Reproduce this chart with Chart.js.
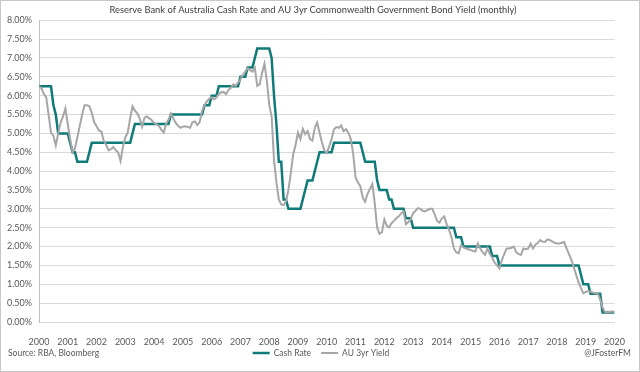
<!DOCTYPE html>
<html>
<head>
<meta charset="utf-8">
<title>RBA Cash Rate vs AU 3yr Yield</title>
<script src="https://cdn.jsdelivr.net/npm/chart.js@4.4.0/dist/chart.umd.min.js"></script>
<style>
  html, body { margin: 0; padding: 0; background: #fff; }
  #wrap { width: 640px; height: 372px; }
</style>
</head>
<body>
<div id="wrap"><canvas id="chart" width="640" height="372"></canvas></div>
<script>
// monthly series, first point sits on the 2000 tick, one point per month
const startYear = 2000;
const yearTicks = [2000, 2001, 2002, 2003, 2004, 2005, 2006, 2007, 2008, 2009, 2010,
  2011, 2012, 2013, 2014, 2015, 2016, 2017, 2018, 2019, 2020];
const rateTicks = [0, 0.5, 1, 1.5, 2, 2.5, 3, 3.5, 4, 4.5, 5, 5.5, 6, 6.5, 7, 7.5, 8];

const cashRate = [
  6.25, 6.25, 6.25, 6.25, 6.25,
  6.25, 5.75, 5.5, 5.0, 5.0, 5.0, 5.0, 5.0, 4.75, 4.5, 4.5, 4.25,
  4.25, 4.25, 4.25, 4.25, 4.5, 4.75, 4.75, 4.75, 4.75, 4.75, 4.75, 4.75,
  4.75, 4.75, 4.75, 4.75, 4.75, 4.75, 4.75, 4.75, 4.75, 4.75, 5.0, 5.25,
  5.25, 5.25, 5.25, 5.25, 5.25, 5.25, 5.25, 5.25, 5.25, 5.25, 5.25, 5.25,
  5.25, 5.25, 5.5, 5.5, 5.5, 5.5, 5.5, 5.5, 5.5, 5.5, 5.5, 5.5,
  5.5, 5.5, 5.5, 5.5, 5.75, 5.75, 5.75, 6.0, 6.0, 6.0, 6.25, 6.25,
  6.25, 6.25, 6.25, 6.25, 6.25, 6.25, 6.25, 6.5, 6.5, 6.5, 6.75, 6.75,
  6.75, 7.0, 7.25, 7.25, 7.25, 7.25, 7.25, 7.25, 7.0, 6.0, 5.25, 4.25,
  4.25, 3.25, 3.25, 3.0, 3.0, 3.0, 3.0, 3.0, 3.0, 3.25, 3.5, 3.75,
  3.75, 3.75, 4.0, 4.25, 4.5, 4.5, 4.5, 4.5, 4.5, 4.5, 4.75, 4.75,
  4.75, 4.75, 4.75, 4.75, 4.75, 4.75, 4.75, 4.75, 4.75, 4.75, 4.5, 4.25,
  4.25, 4.25, 4.25, 4.25, 3.75, 3.5, 3.5, 3.5, 3.5, 3.25, 3.25, 3.0,
  3.0, 3.0, 3.0, 3.0, 2.75, 2.75, 2.75, 2.5, 2.5, 2.5, 2.5, 2.5,
  2.5, 2.5, 2.5, 2.5, 2.5, 2.5, 2.5, 2.5, 2.5, 2.5, 2.5, 2.5,
  2.5, 2.25, 2.25, 2.25, 2.0, 2.0, 2.0, 2.0, 2.0, 2.0, 2.0, 2.0,
  2.0, 2.0, 2.0, 2.0, 1.75, 1.75, 1.75, 1.5, 1.5, 1.5, 1.5, 1.5,
  1.5, 1.5, 1.5, 1.5, 1.5, 1.5, 1.5, 1.5, 1.5, 1.5, 1.5, 1.5,
  1.5, 1.5, 1.5, 1.5, 1.5, 1.5, 1.5, 1.5, 1.5, 1.5, 1.5, 1.5,
  1.5, 1.5, 1.5, 1.5, 1.5, 1.25, 1.0, 1.0, 1.0, 0.75, 0.75, 0.75,
  0.75, 0.75, 0.25, 0.25, 0.25, 0.25, 0.25, 0.25
];

const bondYield = [
  6.25, 6.2, 6.05, 5.96, 5.5, 5.02, 4.94, 4.68, 5.0, 5.28, 5.45, 5.66,
  5.25, 4.85, 4.51, 4.6, 4.9, 5.2, 5.5, 5.75, 5.75, 5.72, 5.55, 5.3,
  5.19, 5.08, 5.05, 4.8, 4.7, 4.55, 4.58, 4.64, 4.55, 4.5, 4.27, 4.65,
  4.9, 5.02, 5.4, 5.72, 5.6, 5.53, 5.4, 5.18, 5.42, 5.45, 5.4, 5.35,
  5.28, 5.25, 5.2, 5.1, 5.02, 5.25, 5.36, 5.53, 5.4, 5.28, 5.2, 5.15,
  5.18, 5.19, 5.17, 5.15, 5.3, 5.32, 5.22, 5.3, 5.6, 5.75, 5.85, 5.92,
  5.96, 5.9, 5.96, 6.05, 6.09, 6.1, 6.04, 6.15, 6.21, 6.3, 6.26, 6.35,
  6.43, 6.55, 6.64, 6.73, 6.68, 6.64, 6.74, 6.26, 6.3, 6.6, 6.85, 6.4,
  5.75, 5.45, 4.3, 3.7, 3.25, 3.12, 3.1, 3.2, 3.5, 3.95, 4.45, 4.7,
  5.02, 4.85, 5.12, 4.98, 5.06, 4.85, 4.81, 5.15, 5.29, 5.02, 4.76, 4.55,
  4.49, 4.65, 4.85, 5.11, 5.17, 5.15, 5.21, 5.06, 5.11, 5.02, 4.85, 4.47,
  3.83, 3.7, 3.6, 3.3, 3.19, 3.4, 3.53, 3.66, 3.15, 2.5, 2.34, 2.38,
  2.72, 2.55, 2.51, 2.62, 2.68, 2.75, 2.8, 2.88, 2.93, 2.59, 2.65, 2.72,
  2.89, 2.95, 3.02, 3.0, 2.95, 2.93, 2.97, 3.0, 3.0, 2.85, 2.68, 2.63,
  2.75, 2.8, 2.59, 2.45, 2.25, 1.95, 1.85, 1.82, 2.04, 1.98, 1.95, 1.93,
  1.91, 1.88, 1.87, 2.08, 1.95, 1.85, 1.78, 1.95, 1.8, 1.7, 1.57, 1.5,
  1.42, 1.65, 1.8, 1.95, 1.95, 1.97, 2.0, 1.85, 1.8, 1.78, 1.95, 1.93,
  1.95, 2.08, 1.95, 2.05, 2.1, 2.17, 2.13, 2.12, 2.19, 2.17, 2.14, 2.1,
  2.08, 2.08, 2.1, 2.12, 1.95, 1.8, 1.65, 1.45, 1.25, 1.05, 0.9, 0.76,
  0.8, 0.82, 0.8, 0.78, 0.76, 0.75, 0.6, 0.38, 0.27, 0.25, 0.27, 0.28,
  0.27
];

const TEAL = "#0f7b78";
const GREY = "#a6a6a6";
const TEXT = "#595959";
const FONT = "Lato, 'Open Sans', sans-serif";

const toPoints = (values) => values.map((v, i) => ({ x: startYear + i / 12, y: v }));

// bottom strip: legend (from the datasets), source line, handle and the outer frame
const bottomStrip = {
  id: "bottomStrip",
  afterDraw(chart) {
    const c = chart.ctx;
    const y = 353;
    c.save();
    c.font = "8.5px " + FONT;
    c.fillStyle = TEXT;
    c.textBaseline = "middle";

    // legend, centred under the plot
    const sample = 17, gap = 4, between = 10;
    const sets = chart.data.datasets;
    const widths = sets.map(ds => sample + gap + c.measureText(ds.label).width);
    const total = widths.reduce((a, b) => a + b, 0) + between * (sets.length - 1);
    let x = 321 - total / 2;
    sets.forEach((ds, i) => {
      c.strokeStyle = ds.borderColor;
      c.lineWidth = ds.borderWidth;
      c.beginPath();
      c.moveTo(x, y);
      c.lineTo(x + sample, y);
      c.stroke();
      c.textAlign = "left";
      c.fillText(ds.label, x + sample + gap, y);
      x += widths[i] + between;
    });

    c.textAlign = "left";
    c.fillText("Source: RBA, Bloomberg", 8, y);
    c.textAlign = "right";
    c.fillText("@JFosterFM", 631, y);

    c.strokeStyle = "#c8c8c8";
    c.lineWidth = 1;
    c.strokeRect(0.5, 0.5, 639, 371);
    c.restore();
  }
};

const ctx = document.getElementById("chart").getContext("2d");
new Chart(ctx, {
  type: "line",
  data: {
    datasets: [
      {
        label: "Cash Rate",
        data: toPoints(cashRate),
        borderColor: TEAL,
        borderWidth: 2.5,
        pointRadius: 0,
        tension: 0,
        order: 1
      },
      {
        label: "AU 3yr Yield",
        data: toPoints(bondYield),
        borderColor: GREY,
        borderWidth: 2,
        pointRadius: 0,
        tension: 0,
        order: 0
      }
    ]
  },
  options: {
    responsive: false,
    animation: false,
    layout: { padding: { left: 0, right: 14, top: 0, bottom: 0 } },
    plugins: {
      title: {
        display: true,
        text: "Reserve Bank of Australia Cash Rate and AU 3yr Commonwealth Government Bond Yield (monthly)",
        color: "#404040",
        font: { family: FONT, size: 9.4, weight: "normal" },
        padding: { top: 4, bottom: 5 }
      },
      legend: { display: false },
      tooltip: { enabled: false }
    },
    scales: {
      x: {
        type: "linear",
        min: yearTicks[0],
        max: yearTicks[yearTicks.length - 1],
        afterBuildTicks: (s) => { s.ticks = yearTicks.map(v => ({ value: v })); },
        afterFit: (s) => { s.height = 50; },
        ticks: {
          callback: (v) => String(v),
          color: TEXT,
          font: { family: FONT, size: 9 },
          padding: 15,
          maxRotation: 0,
          autoSkip: false
        },
        grid: { display: false, drawTicks: false },
        border: { display: true, color: "#d9d9d9" }
      },
      y: {
        min: rateTicks[0],
        max: rateTicks[rateTicks.length - 1],
        afterBuildTicks: (s) => { s.ticks = rateTicks.map(v => ({ value: v })); },
        afterFit: (s) => { s.width = 39; },
        ticks: {
          callback: (v) => v.toFixed(2) + "%",
          color: TEXT,
          font: { family: FONT, size: 9 },
          padding: 7
        },
        grid: { color: "#d9d9d9", drawTicks: false },
        border: { display: true, color: "#bfbfbf" }
      }
    }
  },
  plugins: [bottomStrip]
});
</script>
</body>
</html>
